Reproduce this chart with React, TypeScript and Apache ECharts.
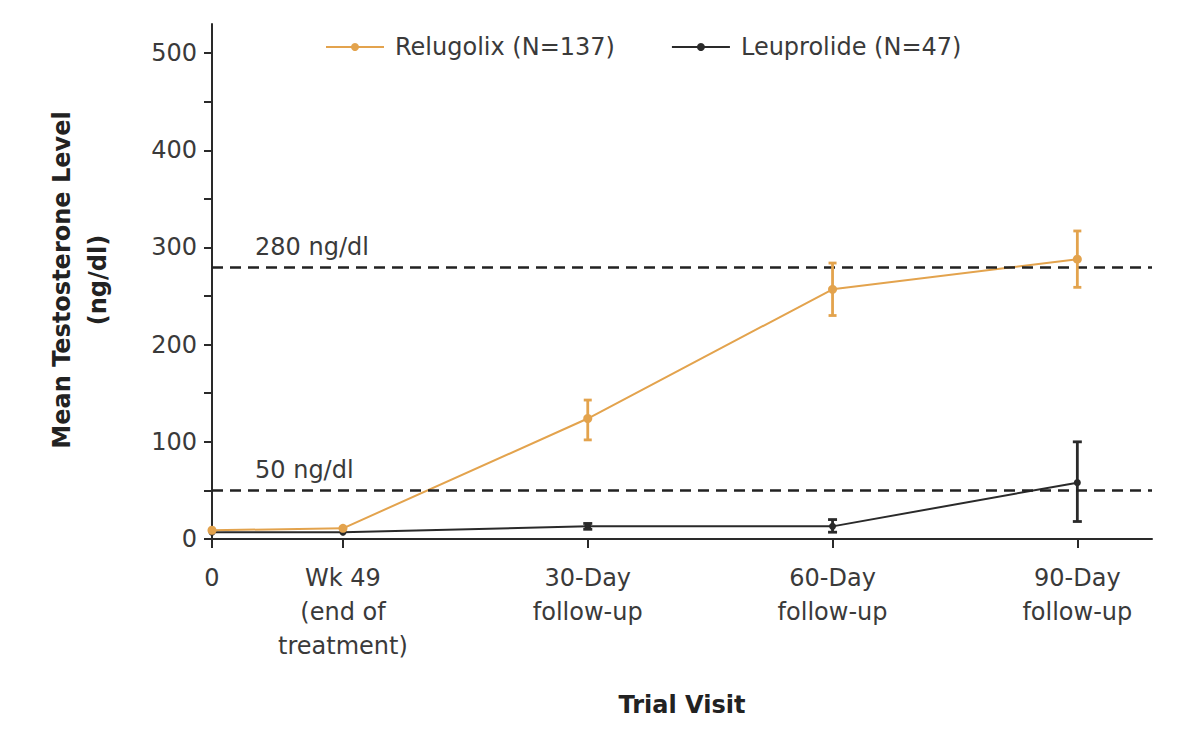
import React, { useEffect, useRef } from "react";
import * as echarts from "echarts";

const visitLabels = [
  "0",
  "Wk 49\n(end of\ntreatment)",
  "30-Day\nfollow-up",
  "60-Day\nfollow-up",
  "90-Day\nfollow-up",
];
const visitPositions = [0, 0.535, 1.535, 2.535, 3.535];
const xMax = 3.84;

const relugolixMean = [9, 11, 124, 257, 288];
const relugolixLow = [null, null, 102, 230, 259];
const relugolixHigh = [null, null, 143, 284, 317];

const leuprolideMean = [7, 7, 13, 13, 58];
const leuprolideLow = [null, null, 10, 7, 18];
const leuprolideHigh = [null, null, 16, 20, 100];

const yTicks = [0, 100, 200, 300, 400, 500];
const yTickMarks = [0, 50, 100, 150, 200, 250, 300, 350, 400, 450, 500];
const yMax = 530;

const refValues = [280, 50];
const refLabels = ["280 ng/dl", "50 ng/dl"];

const ORANGE = "#E3A34D";
const BLACK = "#2a2a2a";
const TEXT = "#3a3a3a";
const FONT = "'DejaVu Sans', 'Noto Sans', sans-serif";

function lineData(mean: number[]) {
  return mean.map((v, i) => [visitPositions[i], v]);
}
function errData(lo: (number | null)[], hi: (number | null)[]) {
  const out: number[][] = [];
  lo.forEach((l, i) => {
    const h = hi[i];
    if (l != null && h != null) out.push([visitPositions[i], l, h]);
  });
  return out;
}

function errorRender(color: string, capHalf: number) {
  return (params: any, api: any) => {
    const x = api.value(0);
    const lo = api.coord([x, api.value(1)]);
    const hi = api.coord([x, api.value(2)]);
    const style = { stroke: color, lineWidth: 2.8, fill: "none" };
    return {
      type: "group",
      children: [
        { type: "line", shape: { x1: lo[0], y1: lo[1], x2: hi[0], y2: hi[1] }, style },
        { type: "line", shape: { x1: lo[0] - capHalf, y1: lo[1], x2: lo[0] + capHalf, y2: lo[1] }, style },
        { type: "line", shape: { x1: hi[0] - capHalf, y1: hi[1], x2: hi[0] + capHalf, y2: hi[1] }, style },
      ],
    };
  };
}

function labelFor(v: number) {
  let best = 0;
  let bd = Infinity;
  visitPositions.forEach((p, i) => {
    const d = Math.abs(p - v);
    if (d < bd) {
      bd = d;
      best = i;
    }
  });
  return visitLabels[best];
}

export default function App() {
  const ref = useRef<HTMLDivElement>(null);

  useEffect(() => {
    if (!ref.current) return;
    const chart = echarts.init(ref.current, undefined, { renderer: "svg" });
    const option: any = {
      animation: false,
      backgroundColor: "#ffffff",
      textStyle: { fontFamily: FONT },
      grid: { left: 212, right: 48, top: 24, bottom: 208, containLabel: false },
      legend: {
        top: 30,
        left: 320,
        itemWidth: 58,
        itemHeight: 10,
        itemGap: 56,
        data: ["Relugolix (N=137)", "Leuprolide (N=47)"],
        textStyle: { fontSize: 24, color: TEXT, fontFamily: FONT, padding: [0, 0, 0, 6] },
      },
      xAxis: {
        type: "value",
        min: 0,
        max: xMax,
        splitLine: { show: false },
        axisLine: { show: true, onZero: false, lineStyle: { color: BLACK, width: 2 } },
        axisTick: {
          show: true,
          length: 9,
          customValues: visitPositions,
          lineStyle: { color: BLACK, width: 2 },
        },
        axisLabel: {
          customValues: visitPositions,
          formatter: (v: number) => labelFor(v),
          fontSize: 24,
          lineHeight: 34,
          color: TEXT,
          margin: 22,
          fontFamily: FONT,
        },
      },
      yAxis: {
        type: "value",
        min: 0,
        max: yMax,
        splitLine: { show: false },
        axisLine: { show: true, onZero: false, lineStyle: { color: BLACK, width: 2 } },
        axisTick: {
          show: true,
          length: 8,
          customValues: yTickMarks,
          lineStyle: { color: BLACK, width: 2 },
        },
        axisLabel: {
          customValues: yTicks,
          fontSize: 24,
          color: TEXT,
          margin: 15,
          fontFamily: FONT,
        },
      },
      series: [
        {
          name: "Leuprolide (N=47)",
          type: "line",
          data: lineData(leuprolideMean),
          symbol: "circle",
          symbolSize: 7,
          z: 2,
          itemStyle: { color: BLACK },
          lineStyle: { color: BLACK, width: 2 },
          markLine: {
            silent: true,
            symbol: "none",
            lineStyle: { color: "#222222", type: [11, 7], width: 2.5 },
            label: {
              show: true,
              position: "insideStartTop",
              distance: [43, 8],
              fontSize: 24,
              color: TEXT,
              fontFamily: FONT,
              formatter: (p: any) => refLabels[refValues.indexOf(p.value)],
            },
            data: refValues.map((v) => ({ yAxis: v })),
          },
        },
        {
          name: "Leuprolide error",
          type: "custom",
          renderItem: errorRender(BLACK, 4.5),
          data: errData(leuprolideLow, leuprolideHigh),
          encode: { x: 0, y: [1, 2] },
          z: 3,
          silent: true,
        },
        {
          name: "Relugolix (N=137)",
          type: "line",
          data: lineData(relugolixMean),
          symbol: "circle",
          symbolSize: 9,
          z: 4,
          itemStyle: { color: ORANGE },
          lineStyle: { color: ORANGE, width: 2 },
        },
        {
          name: "Relugolix error",
          type: "custom",
          renderItem: errorRender(ORANGE, 4),
          data: errData(relugolixLow, relugolixHigh),
          encode: { x: 0, y: [1, 2] },
          z: 5,
          silent: true,
        },
      ],
      graphic: [
        {
          type: "text",
          x: 80,
          y: 280,
          rotation: Math.PI / 2,
          style: {
            text: "Mean Testosterone Level\n(ng/dl)",
            font: `bold 24px ${FONT}`,
            fill: "#222222",
            textAlign: "center",
            textVerticalAlign: "middle",
            lineHeight: 36,
          },
        },
        {
          type: "text",
          x: 682,
          y: 705,
          style: {
            text: "Trial Visit",
            font: `bold 24px ${FONT}`,
            fill: "#222222",
            textAlign: "center",
            textVerticalAlign: "middle",
          },
        },
      ],
    };
    chart.setOption(option);
    return () => chart.dispose();
  }, []);

  return (
    <div
      ref={ref}
      style={{ position: "fixed", left: 0, top: 0, width: 1200, height: 747 }}
    />
  );
}
